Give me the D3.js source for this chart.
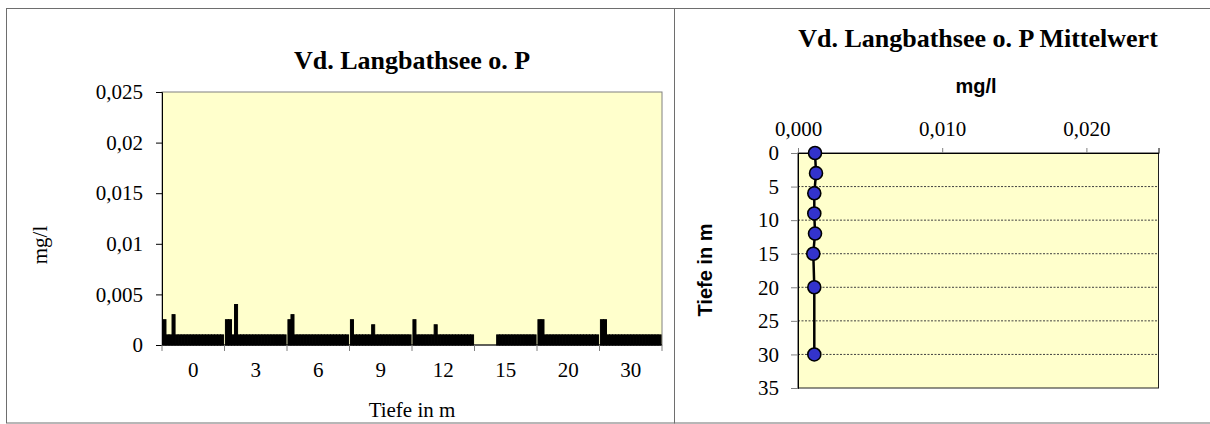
<!DOCTYPE html>
<html>
<head>
<meta charset="utf-8">
<script src="https://cdn.jsdelivr.net/npm/d3@7"></script>
<style>
  body { margin: 0; background: #fff; }
  svg { display: block; }
</style>
</head>
<body>
<svg id="chart" width="1210" height="424"></svg>
<script>
// DATA SECTION

// Tiefenstufen (Kategorien links)
const depths = ['0', '3', '6', '9', '12', '15', '20', '30'];

// 20 Messungen je Tiefe, mg/l (null = kein Wert)
const t0  = [0.0025, 0.001, 0.001, 0.003, 0.001, 0.001, 0.001, 0.001, 0.001, 0.001, 0.001, 0.001, 0.001, 0.001, 0.001, 0.001, 0.001, 0.001, 0.001, 0.001];
const t3  = [0.0025, 0.0025, 0.001, 0.004, 0.001, 0.001, 0.001, 0.001, 0.001, 0.001, 0.001, 0.001, 0.001, 0.001, 0.001, 0.001, 0.001, 0.001, 0.001, 0.001];
const t6  = [0.0025, 0.003, 0.001, 0.001, 0.001, 0.001, 0.001, 0.001, 0.001, 0.001, 0.001, 0.001, 0.001, 0.001, 0.001, 0.001, 0.001, 0.001, 0.001, 0.001];
const t9  = [0.0025, 0.001, 0.001, 0.001, 0.001, 0.001, 0.001, 0.002, 0.001, 0.001, 0.001, 0.001, 0.001, 0.001, 0.001, 0.001, 0.001, 0.001, 0.001, 0.001];
const t12 = [0.0025, 0.001, 0.001, 0.001, 0.001, 0.001, 0.001, 0.002, 0.001, 0.001, 0.001, 0.001, 0.001, 0.001, 0.001, 0.001, 0.001, 0.001, 0.001, 0.001];
const t15 = [null, null, null, null, null, null, null, 0.001, 0.001, 0.001, 0.001, 0.001, 0.001, 0.001, 0.001, 0.001, 0.001, 0.001, 0.001, 0.001];
const t20 = [0.0025, 0.0025, 0.001, 0.001, 0.001, 0.001, 0.001, 0.001, 0.001, 0.001, 0.001, 0.001, 0.001, 0.001, 0.001, 0.001, 0.001, 0.001, 0.001, 0.001];
const t30 = [0.0025, 0.0025, 0.001, 0.001, 0.001, 0.001, 0.001, 0.001, 0.001, 0.001, 0.001, 0.001, 0.001, 0.001, 0.001, 0.001, 0.001, 0.001, 0.001, 0.001];

// Mittelwert je Tiefe (rechts)
const meanDepths = [0, 3, 6, 9, 12, 15, 20, 30];
const meanValues = [0.00118, 0.00125, 0.00113, 0.00113, 0.00118, 0.00106, 0.00113, 0.00113];

// axis ticks
const leftYTicks = [0, 0.005, 0.01, 0.015, 0.02, 0.025];
const rightXTicks = [0, 0.01, 0.02];
const rightYTicks = [0, 5, 10, 15, 20, 25, 30, 35];

// INITIALIZE SECTION

const serif = "'Liberation Serif', 'Times New Roman', serif";
const sans = "'Liberation Sans', Arial, sans-serif";
const plotFill = '#FFFFCC';

const svg = d3.select('#chart');

let bars = [];
[t0, t3, t6, t9, t12, t15, t20, t30].forEach(function(arr, i) {
  arr.forEach(function(v, j) {
    if (v !== null) bars.push({depth: depths[i], idx: j, value: v});
  });
});

let comma = d3.formatLocale({decimal: ',', thousands: '.', grouping: [3], currency: ['', '']});

// chart frames
svg.append('rect')
  .attr('x', 6.5).attr('y', 8.5)
  .attr('width', 668).attr('height', 414.5)
  .attr('fill', '#fff').attr('stroke', '#6e6e6e').attr('stroke-width', 1);
svg.append('rect')
  .attr('x', 674.5).attr('y', 8.5)
  .attr('width', 560).attr('height', 414.5)
  .attr('fill', '#fff').attr('stroke', '#6e6e6e').attr('stroke-width', 1);

// LEFT CHART: Einzelwerte

function leftChart(selection) {
  let g = selection.append('g').attr('class', 'left');

  let x0 = d3.scaleBand()
    .domain(depths)
    .range([162, 662])
    .paddingInner(0.03)
    .paddingOuter(0.015);
  let x1 = d3.scaleBand()
    .domain(d3.range(20))
    .range([0, x0.bandwidth()]);
  let y = d3.scaleLinear()
    .domain([0, 0.025])
    .range([345, 92]);

  // plot area
  g.append('rect')
    .attr('x', 162).attr('y', 92)
    .attr('width', 500).attr('height', 253)
    .attr('fill', plotFill)
    .attr('stroke', '#808080').attr('stroke-width', 1);

  // bars
  g.append('g')
    .selectAll('rect')
    .data(bars)
    .enter().append('rect')
    .attr('x', d => x0(d.depth) + x1(d.idx))
    .attr('y', d => y(d.value))
    .attr('width', x1.bandwidth())
    .attr('height', d => y(0) - y(d.value))
    .attr('fill', '#000')
    .attr('stroke', '#000')
    .attr('stroke-width', 1);

  // y axis
  g.append('g')
    .attr('transform', 'translate(162,0)')
    .attr('font-family', serif)
    .attr('font-size', 21)
    .call(d3.axisLeft(y).tickValues(leftYTicks).tickSize(6).tickPadding(13)
      .tickFormat(d => d === 0 ? '0' : comma.format('~g')(d)))
    .call(a => a.select('.domain').attr('stroke', '#000'))
    .call(a => a.selectAll('.tick text')
      .attr('font-family', serif)
      .attr('font-size', 21)
      .attr('fill', '#000'));

  // x axis: labels in the middle, ticks at category borders
  let xa = g.append('g').attr('transform', 'translate(0,345)');
  xa.append('line')
    .attr('x1', 162).attr('x2', 662)
    .attr('stroke', '#000');
  let borders = [162].concat(depths.map(d => x0(d) + x0.bandwidth() + x0.step() * x0.paddingInner() / 2));
  borders[borders.length - 1] = 662;
  xa.selectAll('line.tick')
    .data(borders)
    .enter().append('line')
    .attr('class', 'tick')
    .attr('x1', d => d).attr('x2', d => d)
    .attr('y1', 0).attr('y2', 6)
    .attr('stroke', '#808080');
  xa.selectAll('text')
    .data(depths)
    .enter().append('text')
    .attr('x', d => x0(d) + x0.bandwidth() / 2)
    .attr('y', 32)
    .attr('text-anchor', 'middle')
    .attr('font-family', serif)
    .attr('font-size', 21)
    .text(d => d);

  // titles
  g.append('text')
    .attr('x', 412).attr('y', 69)
    .attr('text-anchor', 'middle')
    .attr('font-family', serif).attr('font-size', 26).attr('font-weight', 'bold')
    .text('Vd. Langbathsee o. P');
  g.append('text')
    .attr('x', 412).attr('y', 417)
    .attr('text-anchor', 'middle')
    .attr('font-family', serif).attr('font-size', 21)
    .text('Tiefe in m');
  g.append('text')
    .attr('transform', 'translate(47,245) rotate(-90)')
    .attr('text-anchor', 'middle')
    .attr('font-family', serif).attr('font-size', 21)
    .text('mg/l');
}

// RIGHT CHART: Mittelwert-Profil

function rightChart(selection) {
  let g = selection.append('g').attr('class', 'right');

  let x = d3.scaleLinear()
    .domain([0, 0.025])
    .range([798, 1158.5]);
  let y = d3.scaleLinear()
    .domain([0, 35])
    .range([153, 388]);

  // plot area
  g.append('rect')
    .attr('x', 798).attr('y', 153)
    .attr('width', 360.5).attr('height', 235)
    .attr('fill', plotFill)
    .attr('stroke', '#202020').attr('stroke-width', 1);

  // gridlines
  g.append('g')
    .selectAll('line')
    .data(rightYTicks.filter(d => d > 0 && d < 35))
    .enter().append('line')
    .attr('x1', 798).attr('x2', 1158.5)
    .attr('y1', d => y(d)).attr('y2', d => y(d))
    .attr('stroke', '#404040')
    .attr('stroke-width', 1)
    .attr('stroke-dasharray', '2,1.5');

  // x axis on top
  g.append('g')
    .attr('transform', 'translate(0,153)')
    .call(d3.axisTop(x).tickValues(rightXTicks).tickSize(5).tickPadding(12)
      .tickFormat(comma.format('.3f')))
    .attr('font-family', serif)
    .attr('font-size', 21)
    .call(a => a.select('.domain').attr('stroke', '#000'))
    .call(a => a.selectAll('.tick line').attr('stroke', '#808080'))
    .call(a => a.selectAll('.tick text')
      .attr('font-family', serif)
      .attr('font-size', 21)
      .attr('fill', '#000'));

  // y axis
  g.append('g')
    .attr('transform', 'translate(798,0)')
    .call(d3.axisLeft(y).tickValues(rightYTicks).tickSize(7).tickPadding(12))
    .attr('font-family', serif)
    .attr('font-size', 21)
    .call(a => a.select('.domain').attr('stroke', '#000'))
    .call(a => a.selectAll('.tick line').attr('stroke', '#808080'))
    .call(a => a.selectAll('.tick text')
      .attr('font-family', serif)
      .attr('font-size', 21)
      .attr('fill', '#000'));

  // profile line
  let line = d3.line()
    .x((d, i) => x(meanValues[i]))
    .y(d => y(d));
  g.append('path')
    .datum(meanDepths)
    .attr('d', line)
    .attr('fill', 'none')
    .attr('stroke', '#000')
    .attr('stroke-width', 2.5);

  g.append('g')
    .selectAll('circle')
    .data(meanDepths)
    .enter().append('circle')
    .attr('cx', (d, i) => x(meanValues[i]))
    .attr('cy', d => y(d))
    .attr('r', 6.5)
    .attr('fill', '#3333CC')
    .attr('stroke', '#000')
    .attr('stroke-width', 1.6);

  // titles
  g.append('text')
    .attr('x', 978).attr('y', 47)
    .attr('text-anchor', 'middle')
    .attr('font-family', serif).attr('font-size', 26).attr('font-weight', 'bold')
    .text('Vd. Langbathsee o. P Mittelwert');
  g.append('text')
    .attr('x', 976).attr('y', 93)
    .attr('text-anchor', 'middle')
    .attr('font-family', sans).attr('font-size', 20).attr('font-weight', 'bold')
    .text('mg/l');
  g.append('text')
    .attr('transform', 'translate(712,270) rotate(-90)')
    .attr('text-anchor', 'middle')
    .attr('font-family', sans).attr('font-size', 20).attr('font-weight', 'bold')
    .text('Tiefe in m');
}

// RENDER SECTION
svg.call(leftChart);
svg.call(rightChart);
</script>
</body>
</html>
